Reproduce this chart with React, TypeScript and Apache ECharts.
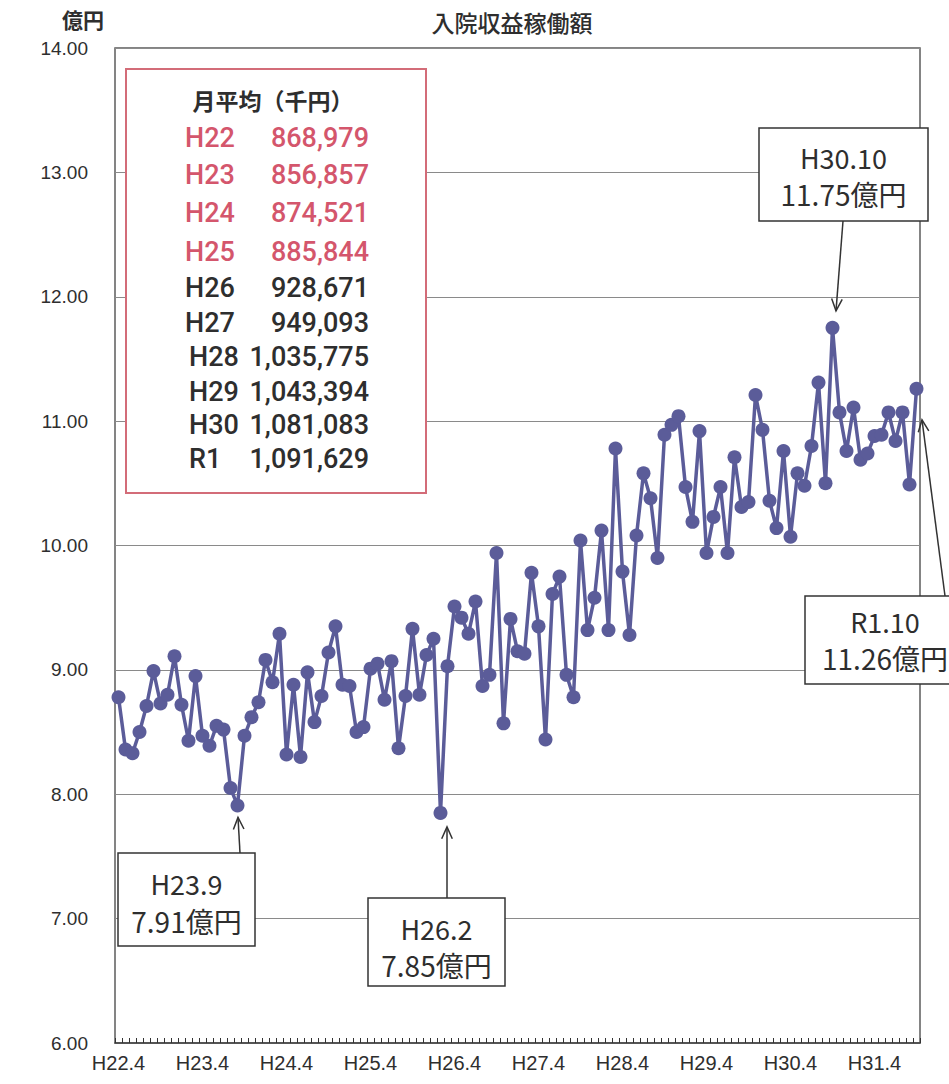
import React, { useEffect, useRef } from "react";
import * as echarts from "echarts";

// ---- data ----
const tickLabels = ["H22.4", "H23.4", "H24.4", "H25.4", "H26.4", "H27.4", "H28.4", "H29.4", "H30.4", "H31.4"];

const values = [
  8.78, 8.36, 8.33, 8.50, 8.71, 8.99, 8.73, 8.80, 9.11, 8.72, 8.43, 8.95,
  8.47, 8.39, 8.55, 8.52, 8.05, 7.91, 8.47, 8.62, 8.74, 9.08, 8.90, 9.29,
  8.32, 8.88, 8.30, 8.98, 8.58, 8.79, 9.14, 9.35, 8.88, 8.87, 8.50, 8.54,
  9.01, 9.05, 8.76, 9.07, 8.37, 8.79, 9.33, 8.80, 9.12, 9.25, 7.85, 9.03,
  9.51, 9.42, 9.29, 9.55, 8.87, 8.96, 9.94, 8.57, 9.41, 9.15, 9.13, 9.78,
  9.35, 8.44, 9.61, 9.75, 8.96, 8.78, 10.04, 9.32, 9.58, 10.12, 9.32, 10.78,
  9.79, 9.28, 10.08, 10.58, 10.38, 9.90, 10.89, 10.97, 11.04, 10.47, 10.19, 10.92,
  9.94, 10.23, 10.47, 9.94, 10.71, 10.31, 10.35, 11.21, 10.93, 10.36, 10.14, 10.76,
  10.07, 10.58, 10.48, 10.80, 11.31, 10.50, 11.75, 11.07, 10.76, 11.11, 10.69, 10.74,
  10.88, 10.89, 11.07, 10.84, 11.07, 10.49, 11.26,
];

const avgYears = ["H22", "H23", "H24", "H25", "H26", "H27", "H28", "H29", "H30", "R1"];
const avgValues = ["868,979", "856,857", "874,521", "885,844", "928,671", "949,093", "1,035,775", "1,043,394", "1,081,083", "1,091,629"];
const avgHighlighted = [true, true, true, true, false, false, false, false, false, false];

const annotIndex = [17, 46, 102, 114];
const annotTitle = ["H23.9", "H26.2", "H30.10", "R1.10"];
const annotValue = ["7.91億円", "7.85億円", "11.75億円", "11.26億円"];

// category names: monthly from H22.4
const categories: string[] = values.map((_, i) => {
  const m = i + 3;
  const year = 22 + Math.floor(m / 12);
  const month = (m % 12) + 1;
  if (year > 31 || (year === 31 && month >= 5)) return "R1." + month;
  return "H" + year + "." + month;
});

const LINE = "#5b5c99";
const RED = "#d4566c";
const DARK = "#2e2e2e";

export default function App() {
  const ref = useRef<HTMLDivElement>(null);
  useEffect(() => {
    document.body.style.margin = "0";
    const chart = echarts.init(ref.current!, undefined, { renderer: "svg" });
    chart.setOption({
      animation: false,
      backgroundColor: "#ffffff",
      grid: {
        left: 115, right: 29, top: 48, bottom: 41,
        show: true, borderColor: "#5c5c5c", borderWidth: 1.5,
      },
      xAxis: {
        type: "category",
        data: categories,
        boundaryGap: true,
        axisLine: { lineStyle: { color: "#444", width: 1.5 } },
        axisTick: { show: true, inside: true, length: 5, interval: 0, lineStyle: { color: "#333", width: 1 } },
        axisLabel: {
          interval: (i: number) => i % 12 === 0,
          formatter: (v: string) => (tickLabels.includes(v) ? v : ""),
          color: DARK, fontSize: 20, fontFamily: "Liberation Sans", margin: 10,
        },
        splitLine: { show: false },
      },
      yAxis: {
        type: "value",
        min: 6, max: 14, interval: 1,
        axisLine: { show: false },
        axisTick: { show: false },
        axisLabel: {
          formatter: (v: number) => v.toFixed(2),
          color: DARK, fontSize: 19, fontFamily: "Liberation Sans", margin: 27,
        },
        splitLine: { lineStyle: { color: "#8a8a8a", width: 1.2 } },
      },
      series: [
        {
          type: "line",
          data: values,
          symbol: "circle",
          symbolSize: 14,
          showAllSymbol: true,
          lineStyle: { color: LINE, width: 3.5 },
          itemStyle: { color: LINE },
          z: 3,
        },
      ],
    });

    const graphics: any[] = [];
    graphics.push({
      type: "text", x: 512, y: 22,
      style: { text: "入院収益稼働額", fill: DARK, font: "500 23px 'Noto Sans CJK JP'", textAlign: "center", textVerticalAlign: "middle" },
    });
    graphics.push({
      type: "text", x: 62, y: 19,
      style: { text: "億円", fill: DARK, font: "bold 21px 'Noto Sans CJK JP'", textAlign: "left", textVerticalAlign: "middle" },
    });

    // monthly average box
    graphics.push({
      type: "rect", shape: { x: 126, y: 69, width: 300, height: 424 },
      style: { fill: "#fff", stroke: "#d36c78", lineWidth: 2 }, z: 10,
    });
    graphics.push({
      type: "text", x: 273, y: 100, z: 11,
      style: { text: "月平均（千円）", fill: DARK, font: "bold 23px 'Noto Sans CJK JP'", textAlign: "center", textVerticalAlign: "middle" },
    });
    const rowY = [138, 175, 213, 252, 288, 323, 357, 392, 425, 459];
    avgYears.forEach((y, i) => {
      const hl = avgHighlighted[i];
      const col = hl ? RED : DARK;
      const lx = i < 6 ? 185 : 189;
      const font = `500 27px Roboto`;
      graphics.push({
        type: "text", x: lx, y: rowY[i], z: 11,
        style: { text: y, fill: col, font, textAlign: "left", textVerticalAlign: "middle" },
      });
      graphics.push({
        type: "text", x: 369, y: rowY[i], z: 11,
        style: { text: avgValues[i], fill: col, font, textAlign: "right", textVerticalAlign: "middle" },
      });
    });

    // annotation boxes (box rect, arrow start, tip offset from point)
    const boxes = [
      { x: 118, y: 853, w: 137, h: 93, sx: 240, sy: 853, dx: 0.5, dy: 12, t1: 30, t2: 68 },
      { x: 368, y: 898, w: 137, h: 88, sx: 447, sy: 898, dx: 6.5, dy: 14, t1: 30, t2: 67 },
      { x: 759, y: 128, w: 169, h: 93, sx: 843, sy: 221, dx: 3.5, dy: -17, t1: 29, t2: 66 },
      { x: 805, y: 596, w: 160, h: 88, sx: 945, sy: 596, dx: 5.5, dy: 31, t1: 25, t2: 62 },
    ];
    annotIndex.forEach((idx, k) => {
      const p = chart.convertToPixel({ seriesIndex: 0 }, [idx, values[idx]]) as number[];
      const b = boxes[k];
      const tx = p[0] + b.dx, ty = p[1] + b.dy;
      graphics.push({
        type: "line", z: 12,
        shape: { x1: b.sx, y1: b.sy, x2: tx, y2: ty },
        style: { stroke: "#333", lineWidth: 1.5 },
      });
      const ang = Math.atan2(b.sy - ty, b.sx - tx);
      const L = 13, spread = 0.42;
      graphics.push({
        type: "polyline", z: 12,
        shape: {
          points: [
            [tx + L * Math.cos(ang - spread), ty + L * Math.sin(ang - spread)],
            [tx, ty],
            [tx + L * Math.cos(ang + spread), ty + L * Math.sin(ang + spread)],
          ],
        },
        style: { stroke: "#333", lineWidth: 1.5, fill: null },
      });
      graphics.push({
        type: "rect", z: 12,
        shape: { x: b.x, y: b.y, width: b.w, height: b.h },
        style: { fill: "#fff", stroke: "#333", lineWidth: 1.5 },
      });
      const cx = b.x + b.w / 2;
      graphics.push({
        type: "text", x: cx, y: b.y + b.t1, z: 13,
        style: { text: annotTitle[k], fill: DARK, font: "27px 'Noto Sans CJK JP'", textAlign: "center", textVerticalAlign: "middle" },
      });
      graphics.push({
        type: "text", x: cx, y: b.y + b.t2, z: 13,
        style: { text: annotValue[k], fill: DARK, font: "28px 'Noto Sans CJK JP'", textAlign: "center", textVerticalAlign: "middle" },
      });
    });
    chart.setOption({ graphic: graphics });

    return () => chart.dispose();
  }, []);
  return <div ref={ref} style={{ width: 949, height: 1084 }} />;
}
